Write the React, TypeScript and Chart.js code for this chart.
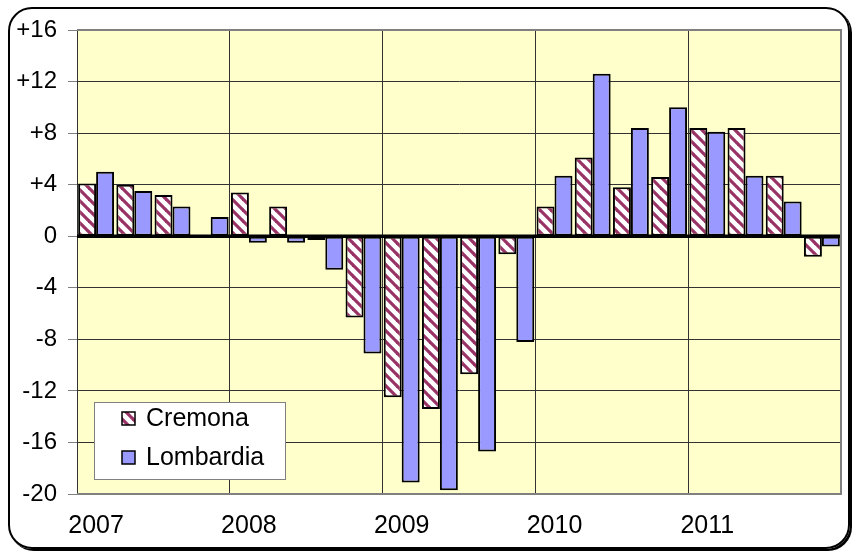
import React, { useEffect, useRef } from "react";
import { Chart, registerables } from "chart.js";

Chart.register(...registerables);

const years = ["2007", "2008", "2009", "2010", "2011"];
const quarters = ["I", "II", "III", "IV"];
const categories = years.flatMap((y) => quarters.map((q) => `${q} trim. ${y}`));

const cremona: (number | null)[] = [4.1, 4.0, 3.2, null, 3.4, 2.3, -0.3, -6.3, -12.5, -13.4, -10.7, -1.4, 2.3, 6.1, 3.8, 4.6, 8.4, 8.4, 4.7, -1.6];
const lombardia: number[] = [5.0, 3.5, 2.3, 1.5, -0.5, -0.5, -2.6, -9.1, -19.1, -19.7, -16.7, -8.2, 4.7, 12.6, 8.4, 10.0, 8.1, 4.7, 2.7, -0.8];

const seriesNames = ["Cremona", "Lombardia"];
const yMin = -20;
const yMax = 16;
const yStep = 4;

const FONT = "'Liberation Sans', Arial, sans-serif";

function makePattern(): CanvasPattern | string {
  const s = 11;
  const c = document.createElement("canvas");
  c.width = s;
  c.height = s;
  const g = c.getContext("2d");
  if (!g) return "#993366";
  g.fillStyle = "#ffffff";
  g.fillRect(0, 0, s, s);
  g.strokeStyle = "#993366";
  g.lineWidth = 3.2;
  for (const k of [-s, 0, s]) {
    g.beginPath();
    g.moveTo(k - 1, -1);
    g.lineTo(k + s + 1, s + 1);
    g.stroke();
  }
  return g.createPattern(c, "repeat") || "#993366";
}

export default function App() {
  const ref = useRef<HTMLCanvasElement | null>(null);

  useEffect(() => {
    document.body.style.margin = "0";
    const canvas = ref.current;
    if (!canvas) return;
    const pattern = makePattern();

    const framePlugin = {
      id: "framePlugin",
      beforeDraw(chart: any) {
        const { ctx, chartArea: a } = chart;
        ctx.save();
        ctx.fillStyle = "#FFFFCC";
        ctx.fillRect(a.left, a.top, a.right - a.left, a.bottom - a.top);
        ctx.restore();
      },
      afterDatasetsDraw(chart: any) {
        const { ctx, chartArea: a } = chart;
        const y0 = chart.scales.y.getPixelForValue(0);
        ctx.save();
        ctx.strokeStyle = "#000";
        ctx.lineWidth = 3.5;
        ctx.beginPath();
        ctx.moveTo(a.left, y0);
        ctx.lineTo(a.right + 1, y0);
        ctx.stroke();
        ctx.restore();
      },
      afterDraw(chart: any) {
        const { ctx, chartArea: a } = chart;
        ctx.save();
        ctx.strokeStyle = "#808080";
        ctx.lineWidth = 2;
        ctx.beginPath();
        ctx.moveTo(a.left, a.top);
        ctx.lineTo(a.right, a.top);
        ctx.lineTo(a.right, a.bottom);
        ctx.lineTo(a.left, a.bottom);
        ctx.stroke();
        // legend
        const lx = 94, ly = 402, lw = 191, lh = 77;
        ctx.fillStyle = "#ffffff";
        ctx.fillRect(lx, ly, lw, lh);
        ctx.strokeStyle = "#808080";
        ctx.lineWidth = 1;
        ctx.strokeRect(lx + 0.5, ly + 0.5, lw, lh);
        const rows = [418, 457];
        chart.data.datasets.forEach((ds: any, i: number) => {
          const cy = rows[i];
          ctx.fillStyle = ds.backgroundColor;
          ctx.fillRect(122, cy - 6, 13, 13);
          ctx.strokeStyle = "#000";
          ctx.lineWidth = 1.5;
          ctx.strokeRect(122, cy - 6, 13, 13);
          ctx.fillStyle = "#000";
          ctx.font = `25px ${FONT}`;
          ctx.textBaseline = "middle";
          ctx.textAlign = "left";
          ctx.fillText(ds.label, 146, cy + 1);
        });
        ctx.restore();
      },
    };

    const chart = new Chart(canvas, {
      type: "bar",
      data: {
        labels: categories,
        datasets: [
          {
            label: seriesNames[0],
            data: cremona,
            backgroundColor: pattern as any,
            borderColor: "#000",
            borderWidth: 2,
            borderSkipped: false,
          },
          {
            label: seriesNames[1],
            data: lombardia,
            backgroundColor: "#9999FF",
            borderColor: "#000",
            borderWidth: 2,
            borderSkipped: false,
          },
        ],
      },
      options: {
        animation: false,
        responsive: false,
        devicePixelRatio: 1,
        layout: { padding: { top: 30, right: 12, left: 0, bottom: 0 } },
        datasets: { bar: { categoryPercentage: 0.94, barPercentage: 1 } },
        plugins: { legend: { display: false }, tooltip: { enabled: false } },
        scales: {
          x: {
            offset: true,
            afterFit(scale: any) {
              scale.height = 58;
            },
            grid: {
              offset: true,
              drawTicks: false,
              color: (ctx: any) => (typeof ctx.index === "number" && ctx.index % 4 === 0 && ctx.index > 0 ? "#333333" : "transparent"),
              lineWidth: 1,
            },
            border: { display: false },
            ticks: {
              autoSkip: false,
              maxRotation: 0,
              minRotation: 0,
              padding: 17,
              color: "#000",
              font: { family: FONT, size: 25 },
              callback: (_v: any, i: number) => (i % 4 === 0 ? years[i / 4] : ""),
            },
          },
          y: {
            min: yMin,
            max: yMax,
            afterFit(scale: any) {
              scale.width = 77;
            },
            grid: {
              color: (ctx: any) => (ctx.tick && ctx.tick.value === 0 ? "transparent" : "#333333"),
              tickColor: "#808080",
              tickLength: 9,
              lineWidth: 1,
            },
            border: { display: true, color: "#333333", width: 1 },
            ticks: {
              stepSize: yStep,
              padding: 11,
              color: "#000",
              font: { family: FONT, size: 24 },
              callback: (v: any) => (v > 0 ? `+${v}` : `${v}`),
            },
          },
        },
      },
      plugins: [framePlugin],
    });
    return () => chart.destroy();
  }, []);

  return (
    <div style={{ position: "relative", width: 853, height: 552, overflow: "hidden", background: "#fff" }}>
      <div
        style={{
          position: "absolute",
          left: 8,
          top: 7,
          width: 842,
          height: 542,
          boxSizing: "border-box",
          border: "2px solid #000",
          borderRadius: 24,
          boxShadow: "2px 2px 0 #000",
        }}
      />
      <canvas ref={ref} width={853} height={552} style={{ position: "absolute", left: 0, top: 0, width: 853, height: 552 }} />
    </div>
  );
}
